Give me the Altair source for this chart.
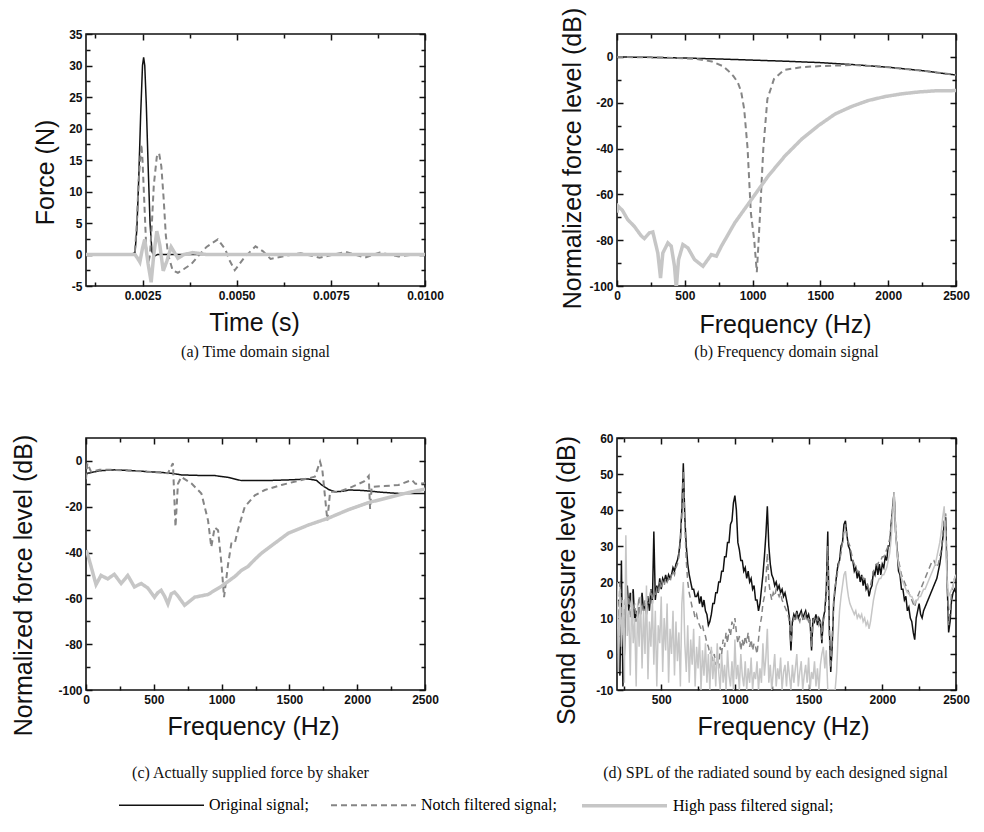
import altair as alt
import pandas as pd

SANS = "Liberation Sans, Arial, Helvetica, sans-serif"
SERIF = "Liberation Serif, Times New Roman, serif"

SERIES = ["Original signal;", "Notch filtered signal;", "High pass filtered signal;"]
COLORS = ["#111111", "#858585", "#c6c6c6"]
DASHES = [[1, 0], [6, 4], [1, 0]]
WIDTHS = [1.5, 2.0, 3.5]

# ---------------- (a) time domain ----------------
a_t_orig = [0.001, 0.0022, 0.0023, 0.00235, 0.0024, 0.00245, 0.0025, 0.00253, 0.00256, 0.0026,
            0.00265, 0.0027, 0.00275, 0.0028, 0.0029, 0.01]
a_f_orig = [0, 0, 0.3, 4, 12, 22, 30, 31.3, 30, 24, 14, 5, 0.5, -0.3, 0, 0]

a_t_notch = [0.001, 0.0022, 0.0023, 0.00235, 0.0024, 0.00247, 0.0025, 0.00255, 0.0026, 0.00265,
             0.0027, 0.00275, 0.0028, 0.00288, 0.00294, 0.003, 0.00306, 0.00312, 0.00318, 0.0033,
             0.00344, 0.0036, 0.0038, 0.004, 0.0042, 0.0045, 0.0047, 0.0048, 0.00495, 0.0052,
             0.0055, 0.0057, 0.0059, 0.0063, 0.0067, 0.0072, 0.0079, 0.0084, 0.0088, 0.0093,
             0.0097, 0.01]
a_f_notch = [0, 0, 0.5, 5, 12, 17.5, 15, 8, 1, -1.5,
             0, 5, 11, 15.5, 16.1, 14, 9, 3, 0, -2.5,
             -2.9, -2.3, -1.5, -0.1, 1.2, 2.4, 0.8, -0.8, -2.5, -0.5,
             1.3, 0.5, -0.7, -0.2, 0.2, -0.5, 0.4, -0.5, 0.3, -0.3,
             0, 0]

a_t_hp = [0.001, 0.0022, 0.0023, 0.00237, 0.00243, 0.0025, 0.00256, 0.00265, 0.00273, 0.0028,
          0.00288, 0.00296, 0.00305, 0.00315, 0.00326, 0.00335, 0.00344, 0.0036, 0.00384, 0.0042, 0.01]
a_f_hp = [0, 0, 0, -0.6, -1.2, 1.0, 2.4, -1.5, -4.4, 0,
          3.7, 1.5, -2.6, -1.0, 1.2, 0.3, -0.6, 0, 0.3, 0, 0]

# ---------------- (b) frequency domain ----------------
b_f_orig = [0, 250, 500, 750, 1000, 1250, 1500, 1750, 2000, 2250, 2500]
b_l_orig = [0, -0.2, -0.5, -0.9, -1.4, -1.9, -2.5, -3.4, -4.5, -6, -7.9]

b_f_notch = [0, 250, 500, 600, 700, 780, 820, 860, 890, 915, 938, 963, 987, 1012, 1031, 1040,
             1054, 1079, 1109, 1158, 1232, 1356, 1500, 1603, 1750, 2000, 2250, 2500]
b_l_notch = [0, -0.2, -0.6, -1.0, -2.0, -4.0, -6.0, -8.5, -11, -15, -22.8, -40, -68, -80, -94, -85,
             -69.5, -40, -18.4, -9.6, -5.7, -4.5, -4.0, -3.8, -3.5, -4.5, -6, -7.9]

b_f_hp = [0, 5, 40, 79, 128, 177, 202, 239, 264, 301, 321, 338, 375, 400, 424, 437, 454, 486,
          523, 572, 634, 696, 733, 770, 869, 992, 1115, 1239, 1362, 1485, 1609, 1732, 1855,
          1978, 2102, 2225, 2348, 2500]
b_l_hp = [-68, -65, -67, -71, -74, -78, -79.3, -76.8, -76.4, -85.6, -96.5, -85.6, -81.2, -82.6,
          -91.4, -101, -88.5, -81.9, -83.4, -88.5, -91.4, -86.3, -87, -82.6, -72.4, -62.2, -52,
          -43.2, -35.9, -30, -24.9, -21.6, -19, -17.3, -16.1, -15.3, -14.8, -14.7]

# ---------------- (c) actually supplied force ----------------
c_f_orig = [0, 12, 100, 209, 300, 456, 550, 629, 703, 800, 949, 1050, 1146, 1319, 1491, 1639,
            1700, 1738, 1790, 1837, 1900, 1935, 2000, 2059, 2182, 2305, 2400, 2500]
c_l_orig = [-6, -5.4, -4.3, -3.9, -4.1, -4.7, -5.0, -5.4, -6.1, -6.3, -6.4, -7.2, -8.6, -8.6,
            -8.3, -7.9, -8.5, -10.5, -12.5, -13.5, -13.2, -12.7, -12.8, -13, -13.7, -14.2,
            -14.2, -14.2]

c_f_notch = [0, 10, 37, 100, 209, 350, 456, 604, 641, 660,
             678, 703, 777, 851, 900, 924, 949, 974, 999, 1018,
             1048, 1072, 1097, 1121, 1171, 1245, 1319, 1442, 1590, 1688,
             1726, 1743, 1780, 1800, 1861, 1935, 2050, 2085, 2095, 2107,
             2200, 2305, 2403, 2429, 2500]
c_l_notch = [-8, -1, -4.7, -3.9, -3.9, -4.3, -4.7, -5.4, -1, -28.8,
             -10, -7, -9.8, -14.2, -26, -37.6, -29, -30.3, -45, -59.5,
             -45, -36, -36, -30, -20, -15, -12.7, -10.5, -8.3, -6.9,
             -0.3, -4, -26, -13.5, -13.5, -12, -9, -6.5, -21, -11.3,
             -11, -10.5, -8.3, -10, -9.8]

c_f_hp = [0, 10, 37, 74, 111, 160, 209, 259, 308, 357,
          407, 456, 505, 530, 554, 579, 604, 629, 653, 678,
          727, 801, 900, 999, 1097, 1146, 1196, 1245, 1294, 1393,
          1491, 1639, 1787, 1935, 2083, 2231, 2379, 2500]
c_l_hp = [-39, -40.3, -46, -54, -50, -51.5, -49.5, -53.5, -50, -55,
          -53.5, -55.5, -59.5, -57.5, -56.5, -59, -62.4, -58, -57.3, -59,
          -63, -59.5, -58.3, -54.7, -50.5, -47.8, -46, -43, -40.3, -35.9,
          -31.6, -28, -25, -21.3, -18.2, -16, -13.8, -12.3]

# ---------------- (d) SPL (10 Hz grid, 200..2500 Hz) ----------------
d_freq = list(range(200, 2501, 10))
d_spl_orig = [
    12, 3, -6, 26, -9, 0, 16, 19, 12, 17,
    14, 18, 9, 12, 10, 13, 11, 17, 12, 14,
    11, 16, 12, 18, 14, 34, 15, 19, 17, 21,
    18, 21, 20, 22, 20, 22, 21, 22, 24, 23,
    25, 26, 28, 32, 40, 53, 38, 30, 25, 22,
    20, 18, 18, 16, 16, 17, 14, 16, 13, 15,
    12, 11, 8, 9, 11, 14, 14, 17, 17, 20,
    20, 23, 23, 27, 27, 31, 31, 36, 37, 42,
    44, 40, 31, 29, 26, 26, 23, 24, 21, 23,
    20, 21, 18, 19, 15, 15, 12, 14, 18, 22,
    27, 33, 41, 30, 25, 22, 21, 19, 20, 18,
    19, 17, 18, 16, 17, 15, 13, 10, 1, 9,
    11, 10, 12, 10, 11, 12, 10, 11, 12, 10,
    11, 9, 1, 10, 9, 11, 8, 10, 9, 3,
    10, 12, 18, 34, 8, -5, 2, 14, 18, 22,
    25, 26, 30, 31, 36, 37, 33, 30, 29, 26,
    26, 23, 24, 21, 23, 20, 22, 19, 21, 18,
    19, 16, 18, 19, 23, 22, 25, 22, 25, 22,
    25, 24, 27, 26, 30, 30, 36, 40, 45, 34,
    29, 23, 22, 18, 18, 15, 16, 12, 13, 10,
    9, 6, 4, 10, 12, 14, 11, 10, 12, 13,
    14, 15, 16, 17, 18, 19, 20, 21, 23, 25,
    28, 32, 36, 38, 20, 6, 9, 15, 17, 18,
    17]
d_spl_notch = [
    18, 10, 20, 14, 5, 12, 17, 13, 16, 10,
    15, 12, 14, 9, 12, 16, 11, 14, 12, 15,
    13, 16, 14, 18, 15, 17, 16, 18, 17, 20,
    18, 20, 19, 21, 20, 21, 20, 22, 23, 22,
    24, 25, 27, 31, 39, 51, 36, 26, 20, 17,
    15, 13, 12, 10, 11, 9, 8, 7, 8, 6,
    5, 3, 2, 0, 1, -2, 0, -3, -1, -4,
    2, 0, 4, 2, 6, 3, 7, 5, 9, 7,
    10, 6, 3, 5, 1, 4, 2, 5, 3, 6,
    2, 4, 1, 3, 2, 0, 4, 8, 10, 14,
    16, 20, 28, 20, 17, 15, 17, 16, 18, 17,
    16, 17, 15, 14, 13, 12, 11, 9, 3, 8,
    10, 9, 11, 10, 9, 11, 10, 9, 11, 10,
    9, 10, 2, 9, 10, 9, 10, 8, 9, 4,
    9, 11, 16, 30, 6, -4, 4, 15, 19, 21,
    24, 26, 28, 31, 34, 36, 32, 31, 30, 28,
    26, 25, 24, 23, 23, 22, 22, 21, 21, 20,
    19, 18, 19, 21, 23, 24, 25, 25, 26, 26,
    27, 27, 28, 29, 30, 32, 36, 41, 45, 36,
    30, 26, 24, 22, 21, 20, 19, 18, 17, 16,
    15, 14, 13, 15, 16, 17, 18, 19, 20, 21,
    22, 23, 24, 25, 26, 26, 25, 24, 25, 27,
    29, 33, 38, 39, 22, 8, 12, 17, 19, 21,
    22]
d_spl_hp = [
    20, -5, 18, 2, 15, -8, 33, 5, 12, -6,
    17, 3, 10, -9, 14, 2, 16, -4, 12, 0,
    19, -7, 9, 2, 15, -3, 12, -9, 8, 3,
    16, -5, 10, 1, 14, -8, 7, 0, 12, -6,
    9, -2, 6, -9, 14, 20, 3, -5, 8, -8,
    4, -3, 7, -9, 2, -4, 5, -10, 1, -6,
    3, -8, 0, -10, 2, -7, -1, -9, 3, -5,
    -10, 0, -8, -3, -10, 1, -6, -9, -2, -10,
    4, -7, -3, -10, 0, -6, -9, -2, -10, -4,
    -8, -1, -10, -5, -7, -2, -10, -4, -8, 3,
    -6, -1, 7, -8, -3, -10, -5, 0, -9, -4,
    -7, -1, -10, -5, -3, -9, -2, -6, -10, -3,
    -8, -4, 0, -9, -5, -2, -10, -6, -3, -8,
    -1, -10, -5, -7, -2, -9, -4, -10, -3, 0,
    2, -4, 1, -10, -10, -10, -10, -10, -10, -5,
    5, 12, 16, 19, 22, 23, 19, 16, 14, 13,
    12, 11, 12, 10, 11, 10, 11, 9, 10, 8,
    9, 7, 9, 12, 15, 17, 19, 20, 21, 21,
    22, 22, 23, 24, 26, 28, 32, 38, 45, 34,
    28, 25, 23, 21, 20, 19, 18, 17, 17, 16,
    16, 15, 14, 15, 15, 16, 16, 17, 18, 18,
    19, 20, 21, 22, 23, 24, 25, 27, 29, 31,
    34, 38, 41, 30, 20, 16, 17, 18, 19, 21,
    22]

# ---------------- tick values ----------------
a_x_major = [0.0025, 0.005, 0.0075, 0.01]
a_x_minor = [0.00125, 0.00375, 0.00625, 0.00875]
a_y_major = [-5, 0, 5, 10, 15, 20, 25, 30, 35]
a_y_minor = [-2.5, 2.5, 7.5, 12.5, 17.5, 22.5, 27.5, 32.5]
f_x_major = [0, 500, 1000, 1500, 2000, 2500]
f_x_minor = [250, 750, 1250, 1750, 2250]
db_y_major = [-100, -80, -60, -40, -20, 0]
db_y_minor = [-90, -70, -50, -30, -10]
d_x_major = [500, 1000, 1500, 2000, 2500]
d_y_major = [-10, 0, 10, 20, 30, 40, 50, 60]
d_y_minor = [-5, 5, 15, 25, 35, 45, 55]

W, H = 339, 252
MAJ, MIN = 6, 4
MINUS_FIX = "replace(datum.label, '\u2212', '-')"


def long_df(parts):
    frames = [pd.DataFrame({"x": xs, "y": ys, "series": name}) for name, xs, ys in parts]
    return pd.concat(frames, ignore_index=True)


LEG = alt.Legend(
    orient="none", legendX=32, legendY=727, direction="horizontal", title=None,
    symbolType="stroke", symbolSize=7225, labelFont=SERIF, labelFontSize=16,
    labelColor="#000000", labelOffset=4, columnPadding=18, labelLimit=400,
)


def axis(orient, values, size, labels=False, fmt=None, title=None, tx=None, ty=None):
    kw = dict(orient=orient, values=values, tickSize=size, offset=-size, tickColor="#111111",
              tickWidth=1.5, domain=False, grid=False, labels=labels, ticks=True)
    if labels:
        kw.update(format=fmt, labelExpr=MINUS_FIX, labelFont=SANS, labelFontSize=12,
                  labelFontWeight="bold", labelColor="#111111", labelPadding=4,
                  labelFlush=False, labelOverlap=False)
    if title:
        kw.update(title=title, titleFont=SANS, titleFontSize=25, titleFontWeight="normal",
                  titleColor="#111111", titleX=tx, titleY=ty, titleAlign="center",
                  titleBaseline="middle",
                  titleAngle=270 if orient in ("left", "right") else 0)
    else:
        kw.update(title=None)
    return alt.Axis(**kw)


def panel(df, xdom, ydom, xmaj, xmin_, ymaj, ymin_, xfmt, yfmt, xtitle, xt, ytitle, yt,
          caption, cap_dx, cap_off, sw=None):
    xs = alt.Scale(domain=xdom, nice=False, zero=False)
    ys = alt.Scale(domain=ydom, nice=False, zero=False)
    base = alt.Chart(df)
    enc = dict(
        color=alt.Color("series:N", scale=alt.Scale(domain=SERIES, range=COLORS), legend=LEG),
        strokeDash=alt.StrokeDash("series:N", scale=alt.Scale(domain=SERIES, range=DASHES),
                                  legend=LEG),
    )
    if sw is None:
        enc["strokeWidth"] = alt.StrokeWidth(
            "series:N", scale=alt.Scale(type="ordinal", domain=SERIES, range=WIDTHS), legend=LEG)
        mark = base.mark_line(clip=True)
    else:
        mark = base.mark_line(clip=True, strokeWidth=sw)
    main = mark.encode(
        x=alt.X("x:Q", scale=xs, axis=axis("bottom", xmaj, MAJ, True, xfmt, xtitle, *xt)),
        y=alt.Y("y:Q", scale=ys, axis=axis("left", ymaj, MAJ, True, yfmt, ytitle, *yt)),
        **enc,
    )

    def dummy(xa, ya):
        return base.mark_line(clip=True, strokeOpacity=0).encode(
            x=alt.X("x:Q", scale=xs, axis=xa),
            y=alt.Y("y:Q", scale=ys, axis=ya),
            detail="series:N",
        )

    layers = [
        main,
        dummy(axis("bottom", xmin_, MIN), axis("left", ymin_, MIN)),
        dummy(axis("top", xmaj, MAJ), axis("right", ymaj, MAJ)),
        dummy(axis("top", xmin_, MIN), axis("right", ymin_, MIN)),
    ]
    return alt.layer(*layers).resolve_axis(x="independent", y="independent").properties(
        width=W, height=H,
        title=alt.TitleParams(caption, orient="bottom", anchor="middle", frame="group",
                              font=SERIF, fontSize=16, fontWeight="normal", color="#111111",
                              offset=cap_off, dx=cap_dx),
    )


df_a = long_df([(SERIES[0], a_t_orig, a_f_orig), (SERIES[1], a_t_notch, a_f_notch),
                (SERIES[2], a_t_hp, a_f_hp)])
df_b = long_df([(SERIES[0], b_f_orig, b_l_orig), (SERIES[1], b_f_notch, b_l_notch),
                (SERIES[2], b_f_hp, b_l_hp)])
df_c = long_df([(SERIES[0], c_f_orig, c_l_orig), (SERIES[1], c_f_notch, c_l_notch),
                (SERIES[2], c_f_hp, c_l_hp)])
df_d = long_df([(SERIES[0], d_freq, d_spl_orig), (SERIES[1], d_freq, d_spl_notch),
                (SERIES[2], d_freq, d_spl_hp)])

pa = panel(df_a, [0.001, 0.01], [-5, 35], a_x_major, a_x_minor, a_y_major, a_y_minor,
           ".4f", "d", "Time (s)", (168, 42), "Force (N)", (-47, 138),
           "(a) Time domain signal", 0, 9)
pb = panel(df_b, [0, 2500], [-100, 10], f_x_major, f_x_minor, db_y_major, db_y_minor,
           "d", "d", "Frequency (Hz)", (168, 44), "Normalized force level (dB)", (-51, 124),
           "(b) Frequency domain signal", 0, 7)
pc = panel(df_c, [0, 2500], [-100, 10], f_x_major, f_x_minor, db_y_major, db_y_minor,
           "d", "d", "Frequency (Hz)", (167, 42), "Normalized force level (dB)", (-69, 147),
           "(c) Actually supplied force by shaker", -5, 26)
pd_ = panel(df_d, [200, 2500], [-10, 60], d_x_major, f_x_minor, d_y_major, d_y_minor,
            "d", "d", "Frequency (Hz)", (166, 42), "Sound pressure level (dB)", (-57, 142),
            "(d) SPL of the radiated sound by each designed signal", -11, 26, sw=1.5)

chart = alt.ConcatChart(
    concat=[pa, pb, pc, pd_], columns=2,
    spacing={"row": 152, "column": 192}, bounds="flush",
).configure_view(stroke="#111111", strokeWidth=1.6).properties(
    autosize=alt.AutoSizeParams(type="none"),
    padding={"left": 86, "top": 34, "right": 898, "bottom": 798},
    background="white",
)

chart.save("out.html", embed_options={"renderer": "svg", "actions": False})
